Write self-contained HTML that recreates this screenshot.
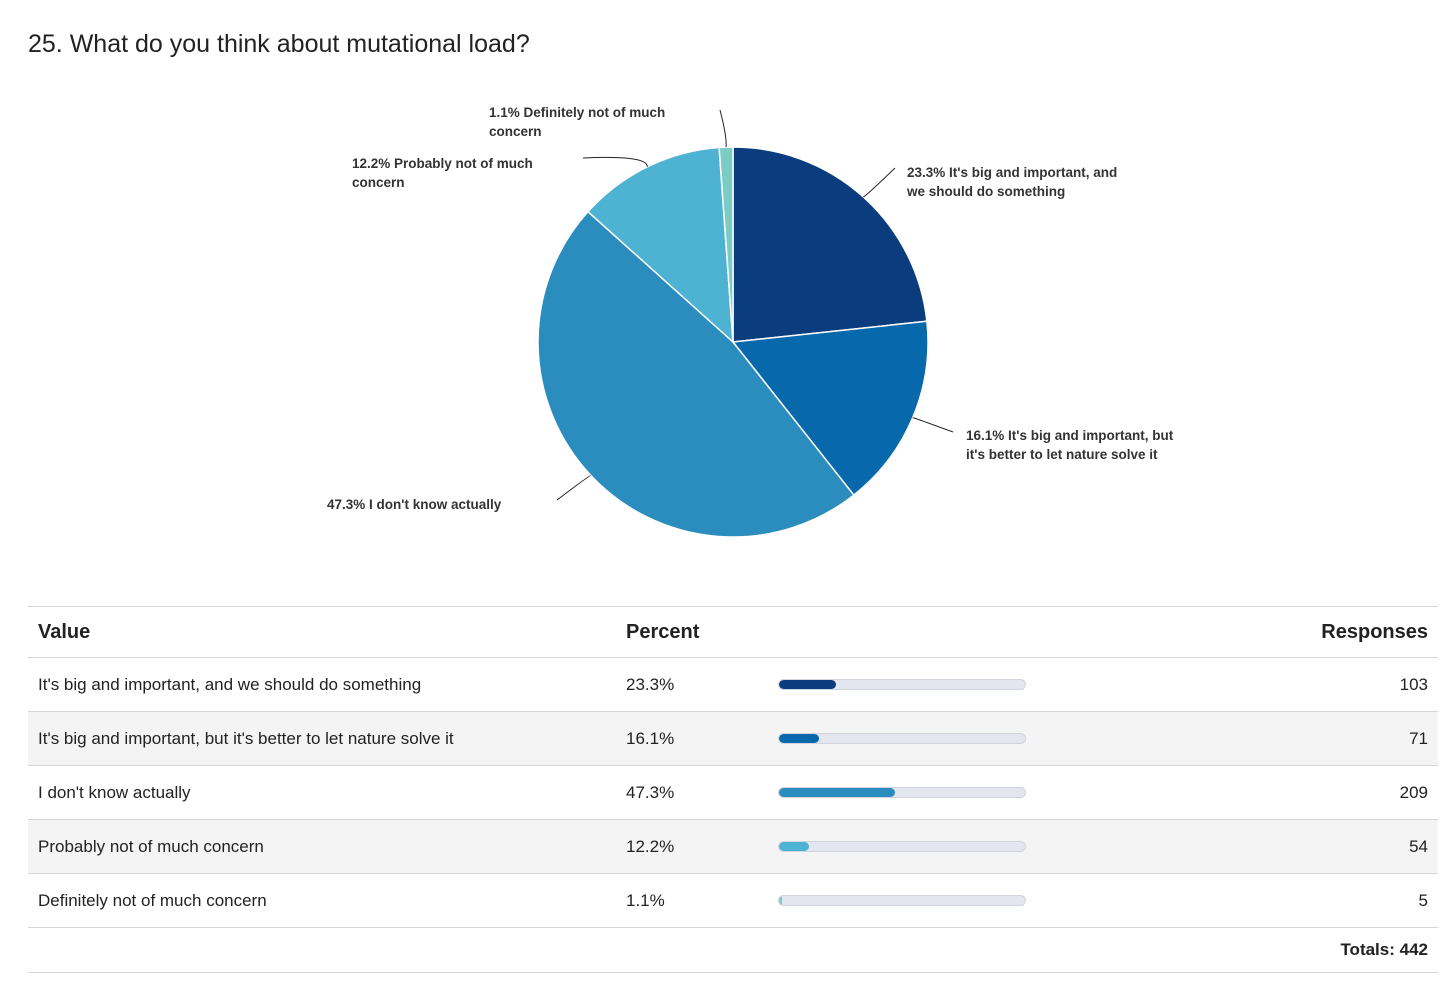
<!DOCTYPE html>
<html><head><meta charset="utf-8"><style>
body{margin:0;width:1456px;height:990px;background:#fff;font-family:"Liberation Sans",sans-serif;color:#222;position:relative;overflow:hidden}
.title{position:absolute;left:28px;top:30px;font-size:25px;color:#222}
.lbl{position:absolute;font-size:13.5px;font-weight:bold;color:#333;line-height:19px}
table{position:absolute;left:28px;top:606px;width:1410px;border-collapse:collapse;font-size:17px;color:#222;table-layout:fixed}
td,th{height:53px;border-top:1px solid #d6d6d6;padding:0 10px;text-align:left}
th{font-size:20px;font-weight:bold;height:50px}
.r{text-align:right}
tr.alt td{background:#f4f4f5}
.track{width:248px;height:11px;background:#e3e6ee;border-radius:6px;position:relative;overflow:hidden;border:1px solid #d0d4de;box-sizing:border-box}
.fill{position:absolute;left:0;top:0;bottom:0;border-radius:6px}
tr.last td{border-bottom:1px solid #d6d6d6;font-weight:bold;height:44px}
</style></head><body>
<div class="title">25. What do you think about mutational load?</div>
<svg id="pie" width="1456" height="600" style="position:absolute;left:0;top:0"></svg>
<div class="lbl" style="left:489px;top:103px">1.1% Definitely not of much<br>concern</div>
<div class="lbl" style="left:352px;top:154px">12.2% Probably not of much<br>concern</div>
<div class="lbl" style="left:907px;top:163px">23.3% It's big and important, and<br>we should do something</div>
<div class="lbl" style="left:966px;top:426px">16.1% It's big and important, but<br>it's better to let nature solve it</div>
<div class="lbl" style="left:327px;top:495px">47.3% I don't know actually</div>
<table><colgroup><col style="width:588px"><col style="width:152px"><col style="width:300px"><col></colgroup><thead><tr>
<th>Value</th><th>Percent</th><th></th><th class="r">Responses</th></tr></thead>
<tbody id="tb"></tbody></table>
<script>
const categories=["It's big and important, and we should do something","It's big and important, but it's better to let nature solve it","I don't know actually","Probably not of much concern","Definitely not of much concern"];
const percents=[23.3,16.1,47.3,12.2,1.1];
const responses=[103,71,209,54,5];
const colors=["#0b3d7e","#0868ac","#2b8cbe","#4eb3d3","#7bccc4"];
const total=442;
const svg=document.getElementById('pie');const NS="http://www.w3.org/2000/svg";
const cx=733,cy=342,R=195;
const sum=responses.reduce((a,b)=>a+b,0);
let a=-Math.PI/2;
const lblPts=[[866,196,895,168],[915,418,953,432],[590,475,557,500],[648,165,645,158,583,158],[727,147,720,110]];
responses.forEach((v,i)=>{
 const s=a,e=a+v/sum*2*Math.PI;a=e;
 const p=document.createElementNS(NS,'path');
 const large=(e-s)>Math.PI?1:0;
 p.setAttribute('d',`M${cx},${cy}L${cx+R*Math.cos(s)},${cy+R*Math.sin(s)}A${R},${R} 0 ${large} 1 ${cx+R*Math.cos(e)},${cy+R*Math.sin(e)}Z`);
 p.setAttribute('fill',colors[i]);p.setAttribute('stroke','#fff');p.setAttribute('stroke-width','1.5');
 
 
 svg.appendChild(p);
 const m=(s+e)/2,x0=cx+R*Math.cos(m),y0=cy+R*Math.sin(m);
 const L=lblPts[i];
 const ln=document.createElementNS(NS,'path');
 ln.setAttribute('d',`M${x0},${y0}Q${L[0]},${L[1]-(i>2?10:0)} ${L[L.length-2]},${L[L.length-1]}`);
 ln.setAttribute('fill','none');ln.setAttribute('stroke','#222');ln.setAttribute('stroke-width','1');
 
 
 svg.appendChild(ln);
});
const tb=document.getElementById('tb');
categories.forEach((c,i)=>{
 const tr=document.createElement('tr');if(i%2)tr.className='alt';
 
 
 tr.innerHTML=`<td>${c}</td><td>${percents[i].toFixed(1)}%</td><td><div class="track"><div class="fill" style="width:${percents[i]}%;background:${colors[i]}"></div></div></td><td class="r">${responses[i]}</td>`;
 tb.appendChild(tr);
});
const tr=document.createElement('tr');tr.className='last';


tr.innerHTML=`<td></td><td></td><td></td><td class="r">Totals: ${total}</td>`;tb.appendChild(tr);
</script>
</body></html>
